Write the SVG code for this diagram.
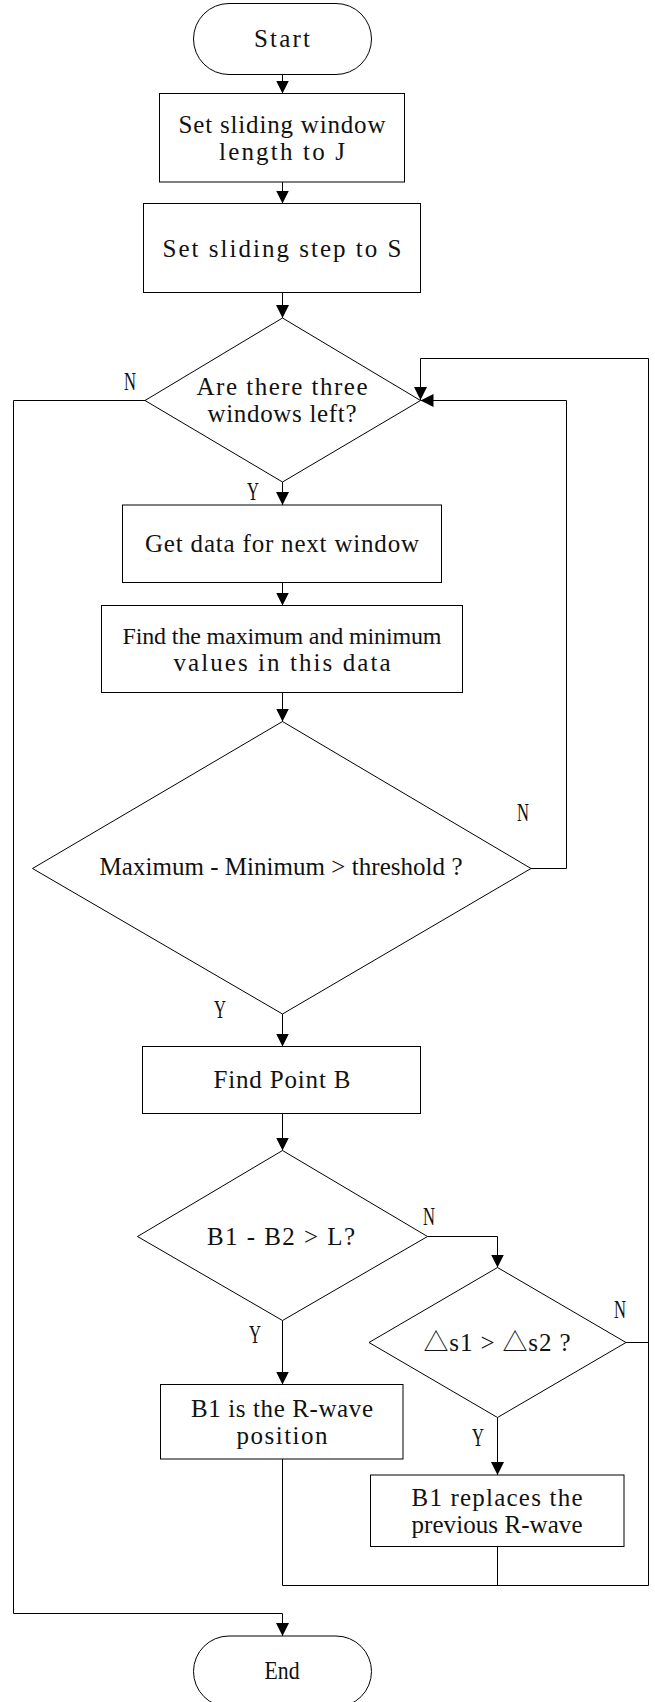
<svg xmlns="http://www.w3.org/2000/svg" width="655" height="1702" viewBox="0 0 655 1702">
  <style>
    .shape { fill: #fff; stroke: #000; stroke-width: 1; }
    .wire { fill: none; stroke: #000; stroke-width: 1; }
    text { font-family: "Liberation Serif", "Noto Sans CJK SC", serif; font-size: 25px; fill: #111; text-anchor: middle; }
    .tight { font-size: 24px; }
  </style>
  <defs>
    <marker id="arrow" markerUnits="userSpaceOnUse" markerWidth="14" markerHeight="13" refX="13" refY="6.5" orient="auto">
      <path d="M0,0 L13,6.5 L0,13 z" fill="#000"/>
    </marker>
  </defs>
  <rect width="655" height="1702" fill="#fff"/>

  <!-- connectors -->
  <g id="connectors">
    <path class="wire" d="M282.5,74.5 V93.5" marker-end="url(#arrow)"/>
    <path class="wire" d="M282.5,182 V203.5" marker-end="url(#arrow)"/>
    <path class="wire" d="M282.5,292.5 V318" marker-end="url(#arrow)"/>
    <path class="wire" d="M282.5,482 V505" marker-end="url(#arrow)"/>
    <path class="wire" d="M282.5,582.5 V605.5" marker-end="url(#arrow)"/>
    <path class="wire" d="M282.5,692.5 V721.5" marker-end="url(#arrow)"/>
    <path class="wire" d="M282.5,1014 V1046.5" marker-end="url(#arrow)"/>
    <path class="wire" d="M282.5,1113.5 V1150.5" marker-end="url(#arrow)"/>
    <path class="wire" d="M427.5,1236.5 H497.5 V1267.5" marker-end="url(#arrow)"/>
    <path class="wire" d="M282.5,1320.5 V1384.5" marker-end="url(#arrow)"/>
    <path class="wire" d="M497.5,1417.5 V1475" marker-end="url(#arrow)"/>
    <!-- inner loop: threshold not exceeded -->
    <path class="wire" d="M531,868.5 H566.5 V400.5 H420.5" marker-end="url(#arrow)"/>
    <!-- outer loop: back to the window test -->
    <path class="wire" d="M282.5,1459 V1585.5 H648.5 V358.5 H420.5 V400" marker-end="url(#arrow)"/>
    <path class="wire" d="M626,1342.5 H648.5"/>
    <path class="wire" d="M497.5,1546.5 V1585.5"/>
    <!-- exit path to End -->
    <path class="wire" d="M145,400.5 H13.5 V1613.5 H282.5 V1636" marker-end="url(#arrow)"/>

    <text x="130" y="390" textLength="12" lengthAdjust="spacingAndGlyphs">N</text>
    <text x="253" y="500" textLength="12" lengthAdjust="spacingAndGlyphs">Y</text>
    <text x="523" y="821" textLength="12" lengthAdjust="spacingAndGlyphs">N</text>
    <text x="220" y="1018" textLength="12" lengthAdjust="spacingAndGlyphs">Y</text>
    <text x="429" y="1225" textLength="12" lengthAdjust="spacingAndGlyphs">N</text>
    <text x="255" y="1343" textLength="12" lengthAdjust="spacingAndGlyphs">Y</text>
    <text x="620" y="1318" textLength="12" lengthAdjust="spacingAndGlyphs">N</text>
    <text x="478" y="1446" textLength="12" lengthAdjust="spacingAndGlyphs">Y</text>
  </g>

  <g id="start">
    <rect class="shape" x="193.5" y="3.5" width="178" height="71" rx="35.5" ry="35.5"/>
    <text x="282" y="46.5" textLength="56" lengthAdjust="spacing">Start</text>
  </g>

  <g id="set-window-length">
    <rect class="shape" x="159.5" y="93.5" width="245" height="88.5"/>
    <text x="282" y="132.5" textLength="207" lengthAdjust="spacing">Set sliding window</text>
    <text x="282" y="160" textLength="126" lengthAdjust="spacing">length to J</text>
  </g>

  <g id="set-step">
    <rect class="shape" x="143.5" y="203.5" width="277" height="89"/>
    <text x="282" y="256.5" textLength="239" lengthAdjust="spacing">Set sliding step to S</text>
  </g>

  <g id="windows-left">
    <polygon class="shape" points="282.5,318 420.5,400.5 282.5,482 145,400.5"/>
    <text x="282" y="394.5" textLength="171" lengthAdjust="spacing">Are there three</text>
    <text x="282" y="421.5" textLength="149" lengthAdjust="spacing">windows left?</text>
  </g>

  <g id="get-data">
    <rect class="shape" x="122.5" y="505" width="319" height="77.5"/>
    <text x="282" y="551.5" textLength="274" lengthAdjust="spacing">Get data for next window</text>
  </g>

  <g id="find-max-min">
    <rect class="shape" x="101.5" y="605.5" width="361" height="87"/>
    <text class="tight" x="282" y="643.5" textLength="319" lengthAdjust="spacing">Find the maximum and minimum</text>
    <text x="282" y="670.5" textLength="217" lengthAdjust="spacing">values in this data</text>
  </g>

  <g id="threshold-test">
    <polygon class="shape" points="282.5,721.5 531,868.5 282.5,1014 32.5,868.5"/>
    <text x="281" y="875" textLength="363" lengthAdjust="spacing">Maximum - Minimum &gt; threshold ?</text>
  </g>

  <g id="find-point-b">
    <rect class="shape" x="142.5" y="1046.5" width="278" height="67"/>
    <text x="282" y="1087.5" textLength="137" lengthAdjust="spacing">Find Point B</text>
  </g>

  <g id="distance-test">
    <polygon class="shape" points="282.5,1150.5 427.5,1236.5 282.5,1320.5 137.5,1236.5"/>
    <text x="281" y="1244.5" textLength="148" lengthAdjust="spacing">B1 - B2 &gt; L?</text>
  </g>

  <g id="slope-test">
    <polygon class="shape" points="497.5,1267.5 626,1342.5 497.5,1417.5 369,1342.5"/>
    <text x="497" y="1350.5" textLength="147" lengthAdjust="spacing">△s1 &gt; △s2 ?</text>
  </g>

  <g id="r-wave-position">
    <rect class="shape" x="160.5" y="1384.5" width="242.5" height="74.5"/>
    <text x="282" y="1416.5" textLength="182" lengthAdjust="spacing">B1 is the R-wave</text>
    <text x="282" y="1443.5" textLength="91" lengthAdjust="spacing">position</text>
  </g>

  <g id="replace-r-wave">
    <rect class="shape" x="370.5" y="1475" width="253.5" height="71.5"/>
    <text x="497" y="1505.5" textLength="171" lengthAdjust="spacing">B1 replaces the</text>
    <text x="497" y="1533" textLength="171" lengthAdjust="spacing">previous R-wave</text>
  </g>

  <g id="end">
    <rect class="shape" x="193.5" y="1636" width="178" height="71" rx="35.5" ry="35.5"/>
    <text x="282" y="1678.5" textLength="35" lengthAdjust="spacingAndGlyphs">End</text>
  </g>
</svg>
